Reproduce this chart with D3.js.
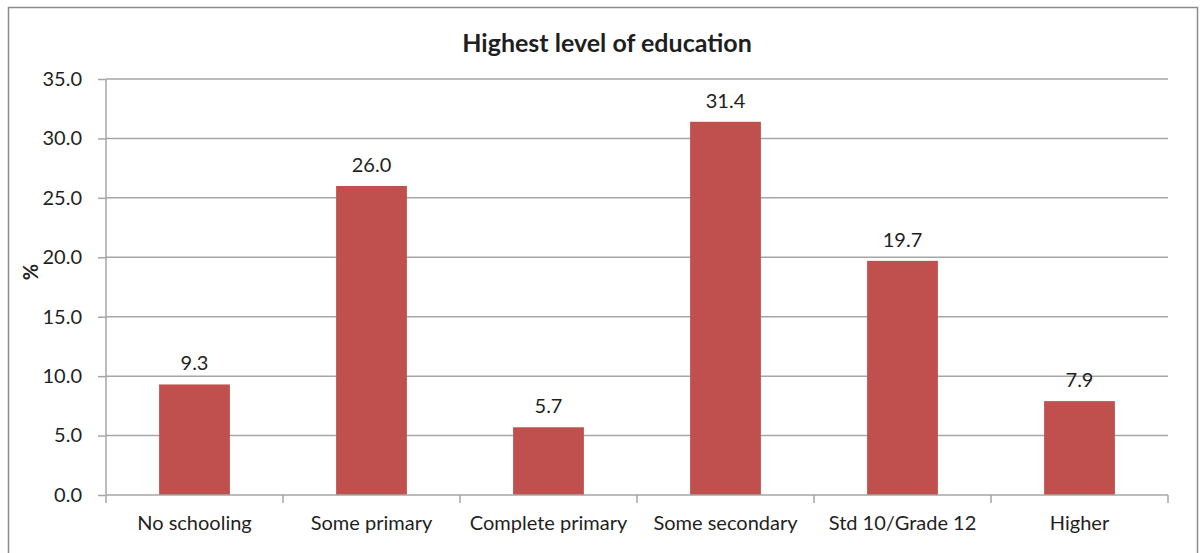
<!DOCTYPE html>
<html>
<head>
  <meta charset="utf-8">
  <title>Highest level of education</title>
  <script src="https://d3js.org/d3.v7.min.js"></script>
  <style>
    body { margin: 0; background: #fff; }
    text { font-family: Lato, "Open Sans", sans-serif; fill: #1f1f1f; }
    .grid line { stroke: #a6a6a6; stroke-width: 1.5; }
    .axis path, .axis line { stroke: #a6a6a6; stroke-width: 1.5; }
    .axis text { font-size: 20px; fill: #1f1f1f; }
  </style>
</head>
<body>
<svg width="1201" height="553"></svg>
<script>

var categories = ["No schooling", "Some primary", "Complete primary", "Some secondary", "Std 10/Grade 12", "Higher"];
var values = [9.3, 26.0, 5.7, 31.4, 19.7, 7.9];
var yTicks = [0, 5, 10, 15, 20, 25, 30, 35];

var svg = d3.select("svg"),
    margin = {top: 79, right: 33, bottom: 58, left: 106},
    width = +svg.attr("width") - margin.left - margin.right,
    height = +svg.attr("height") - margin.top - margin.bottom;

// outer chart frame
svg.append("rect")
    .attr("x", 8.5).attr("y", 7.5)
    .attr("width", 1189).attr("height", 560)
    .attr("fill", "none")
    .attr("stroke", "#8c8c8c")
    .attr("stroke-width", 1.5);

var x = d3.scaleBand().domain(categories).range([0, width]).paddingInner(0.6).paddingOuter(0.3),
    y = d3.scaleLinear().domain([0, 35]).range([height, 0]);

var g = svg.append("g")
    .attr("transform", "translate(" + margin.left + "," + margin.top + ")");

g.append("g")
    .attr("class", "grid")
  .selectAll("line")
  .data(yTicks.slice(1))
  .enter().append("line")
    .attr("x1", 0).attr("x2", width)
    .attr("y1", function(d) { return y(d); })
    .attr("y2", function(d) { return y(d); });

g.selectAll(".bar")
  .data(values)
  .enter().append("rect")
    .attr("class", "bar")
    .attr("fill", "#c0504d")
    .attr("x", function(d, i) { return x(categories[i]); })
    .attr("y", function(d) { return y(d); })
    .attr("width", x.bandwidth())
    .attr("height", function(d) { return height - y(d); });

g.selectAll(".val")
  .data(values)
  .enter().append("text")
    .attr("class", "val")
    .attr("text-anchor", "middle")
    .attr("font-size", "20px")
    .attr("x", function(d, i) { return x(categories[i]) + x.bandwidth() / 2; })
    .attr("y", function(d) { return y(d) - 14; })
    .text(function(d) { return d.toFixed(1); });

// y axis
var yAxis = g.append("g")
    .attr("class", "axis")
    .call(d3.axisLeft(y).tickValues(yTicks).tickSize(8).tickPadding(16)
      .tickFormat(function(d) { return d.toFixed(1); }));
yAxis.select(".domain").attr("d", "M0," + height + "V0");

// x axis with ticks at category boundaries
var xAxis = g.append("g")
    .attr("class", "axis")
    .attr("transform", "translate(0," + height + ")")
    .call(d3.axisBottom(x).tickSize(0).tickPadding(21));
xAxis.select(".domain").attr("d", "M0,0H" + width);
var step = x.step();
xAxis.selectAll(".sep")
  .data(d3.range(categories.length + 1))
  .enter().append("line")
    .attr("x1", function(i) { return i * step; })
    .attr("x2", function(i) { return i * step; })
    .attr("y1", 0).attr("y2", 8);

svg.append("text")
    .attr("x", 607).attr("y", 52)
    .attr("text-anchor", "middle")
    .attr("font-size", "25px")
    .attr("font-weight", "bold")
    .text("Highest level of education");

svg.append("text")
    .attr("transform", "translate(38,272) rotate(-90)")
    .attr("text-anchor", "middle")
    .attr("font-size", "20px")
    .attr("font-weight", "bold")
    .text("%");

</script>
</body>
</html>
